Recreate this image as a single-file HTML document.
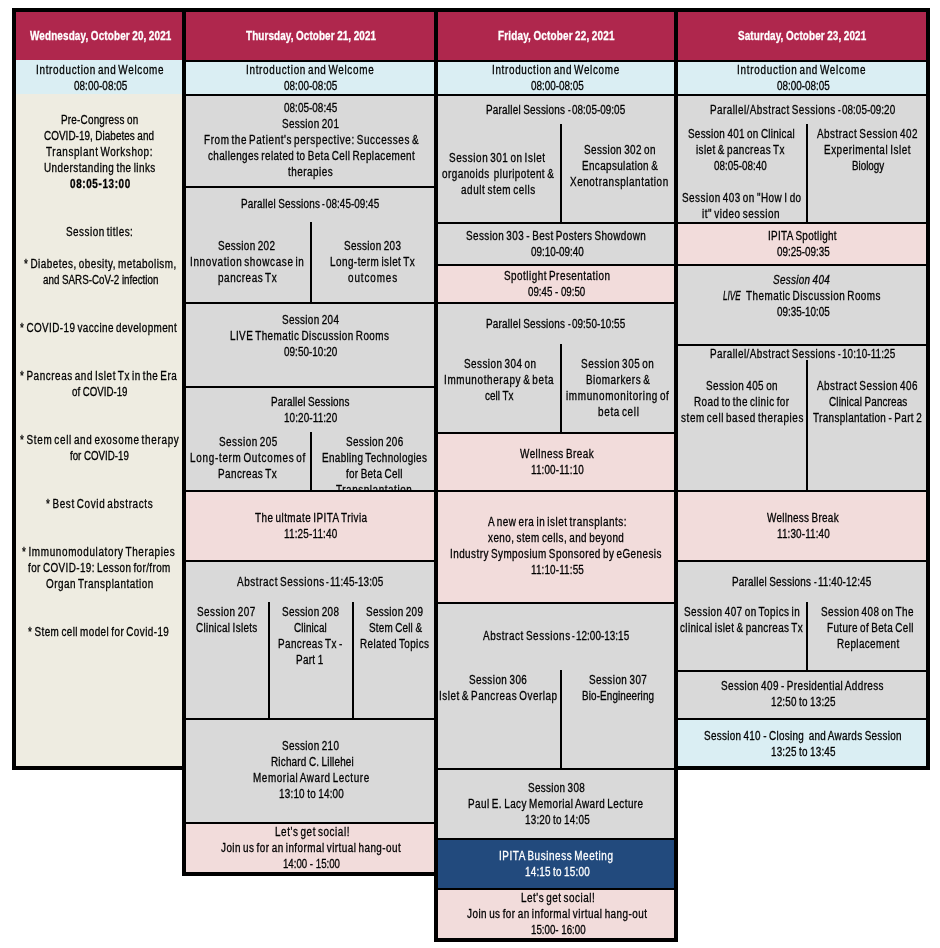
<!DOCTYPE html>
<html lang="en"><head><meta charset="utf-8"><title>IPITA 2021 Virtual Congress - Schedule at a Glance</title>
<style>
html,body{margin:0;padding:0;background:#fff}
body{width:940px;height:948px;position:relative;overflow:hidden;font-family:"Liberation Sans",Arial,sans-serif;font-size:12px;line-height:16px;color:#000;-webkit-text-stroke:0.3px #000}
.k,.c,.d,.t{position:absolute}
.k,.d{background:#000}
.t{white-space:pre;transform-origin:0 50%;height:16px}
.b{font-weight:bold}.w{color:#fff;-webkit-text-stroke-color:#fff}.i{font-style:italic}
.clip{position:absolute;overflow:hidden}
</style></head><body>

<div class="k" style="left:12px;top:8px;width:174px;height:762px"></div>
<div class="k" style="left:182px;top:8px;width:256px;height:868px"></div>
<div class="k" style="left:434px;top:8px;width:244px;height:934px"></div>
<div class="k" style="left:674px;top:8px;width:256px;height:762px"></div>
<div class="c" style="left:16px;top:12px;width:166px;height:48px;background:#AF274D"></div>
<div class="c" style="left:16px;top:60px;width:166px;height:34px;background:#DAEEF3"></div>
<div class="c" style="left:16px;top:94px;width:166px;height:672px;background:#EEECE1"></div>
<div class="c" style="left:186px;top:12px;width:248px;height:48px;background:#AF274D"></div>
<div class="c" style="left:186px;top:62px;width:248px;height:32px;background:#DAEEF3"></div>
<div class="c" style="left:186px;top:96px;width:248px;height:90px;background:#D9D9D9"></div>
<div class="c" style="left:186px;top:188px;width:248px;height:114px;background:#D9D9D9"></div>
<div class="c" style="left:186px;top:304px;width:248px;height:82px;background:#D9D9D9"></div>
<div class="c" style="left:186px;top:388px;width:248px;height:102px;background:#D9D9D9"></div>
<div class="c" style="left:186px;top:492px;width:248px;height:68px;background:#F2DCDB"></div>
<div class="c" style="left:186px;top:562px;width:248px;height:156px;background:#D9D9D9"></div>
<div class="c" style="left:186px;top:720px;width:248px;height:102px;background:#D9D9D9"></div>
<div class="c" style="left:186px;top:824px;width:248px;height:48px;background:#F2DCDB"></div>
<div class="c" style="left:438px;top:12px;width:236px;height:48px;background:#AF274D"></div>
<div class="c" style="left:438px;top:62px;width:236px;height:32px;background:#DAEEF3"></div>
<div class="c" style="left:438px;top:96px;width:236px;height:126px;background:#D9D9D9"></div>
<div class="c" style="left:438px;top:224px;width:236px;height:40px;background:#D9D9D9"></div>
<div class="c" style="left:438px;top:266px;width:236px;height:36px;background:#F2DCDB"></div>
<div class="c" style="left:438px;top:304px;width:236px;height:128px;background:#D9D9D9"></div>
<div class="c" style="left:438px;top:434px;width:236px;height:56px;background:#F2DCDB"></div>
<div class="c" style="left:438px;top:492px;width:236px;height:110px;background:#F2DCDB"></div>
<div class="c" style="left:438px;top:604px;width:236px;height:164px;background:#D9D9D9"></div>
<div class="c" style="left:438px;top:770px;width:236px;height:68px;background:#D9D9D9"></div>
<div class="c" style="left:438px;top:840px;width:236px;height:48px;background:#224A7D"></div>
<div class="c" style="left:438px;top:890px;width:236px;height:48px;background:#F2DCDB"></div>
<div class="c" style="left:678px;top:12px;width:248px;height:48px;background:#AF274D"></div>
<div class="c" style="left:678px;top:62px;width:248px;height:32px;background:#DAEEF3"></div>
<div class="c" style="left:678px;top:96px;width:248px;height:126px;background:#D9D9D9"></div>
<div class="c" style="left:678px;top:224px;width:248px;height:40px;background:#F2DCDB"></div>
<div class="c" style="left:678px;top:266px;width:248px;height:78px;background:#D9D9D9"></div>
<div class="c" style="left:678px;top:346px;width:248px;height:144px;background:#D9D9D9"></div>
<div class="c" style="left:678px;top:492px;width:248px;height:68px;background:#F2DCDB"></div>
<div class="c" style="left:678px;top:562px;width:248px;height:108px;background:#D9D9D9"></div>
<div class="c" style="left:678px;top:672px;width:248px;height:46px;background:#D9D9D9"></div>
<div class="c" style="left:678px;top:720px;width:248px;height:46px;background:#DAEEF3"></div>
<div class="d" style="left:310px;top:222px;width:2px;height:80px"></div>
<div class="d" style="left:310px;top:432px;width:2px;height:58px"></div>
<div class="d" style="left:268px;top:602px;width:2px;height:116px"></div>
<div class="d" style="left:352px;top:602px;width:2px;height:116px"></div>
<div class="d" style="left:560px;top:124px;width:2px;height:98px"></div>
<div class="d" style="left:560px;top:344px;width:2px;height:88px"></div>
<div class="d" style="left:560px;top:670px;width:2px;height:98px"></div>
<div class="d" style="left:806px;top:124px;width:2px;height:98px"></div>
<div class="d" style="left:806px;top:360px;width:2px;height:130px"></div>
<div class="d" style="left:806px;top:602px;width:2px;height:68px"></div>
<div id="txt" style="position:absolute;left:0;top:0;width:940px;height:948px;will-change:transform">
<div class="t b w" style="left:29.90px;top:27.80px;transform:scaleX(0.8250);letter-spacing:0.181px;word-spacing:-0.561px">Wednesday, October 20, 2021</div>
<div class="t b w" style="left:246.40px;top:27.80px;transform:scaleX(0.8250);letter-spacing:0.125px;word-spacing:-0.450px">Thursday, October 21, 2021</div>
<div class="t b w" style="left:498.20px;top:27.80px;transform:scaleX(0.8250);letter-spacing:0.229px;word-spacing:-0.657px">Friday, October 22, 2021</div>
<div class="t b w" style="left:738.20px;top:27.80px;transform:scaleX(0.8250);letter-spacing:0.150px;word-spacing:-0.500px">Saturday, October 23, 2021</div>
<div class="t" style="left:35.57px;top:61.90px;transform:scaleX(0.8250);letter-spacing:0.833px;word-spacing:-1.866px">Introduction and Welcome</div>
<div class="t" style="left:74.20px;top:77.90px;transform:scaleX(0.8250);letter-spacing:0.059px">08:00-08:05</div>
<div class="t" style="left:60.50px;top:111.90px;transform:scaleX(0.8250);letter-spacing:0.261px;word-spacing:-0.722px">Pre-Congress on</div>
<div class="t" style="left:44.40px;top:127.90px;transform:scaleX(0.8250);letter-spacing:0.056px;word-spacing:-0.311px">COVID-19, Diabetes and</div>
<div class="t" style="left:45.80px;top:143.90px;transform:scaleX(0.8250);letter-spacing:0.738px;word-spacing:-1.676px">Transplant Workshop:</div>
<div class="t" style="left:44.00px;top:159.90px;transform:scaleX(0.8250);letter-spacing:0.550px;word-spacing:-1.300px">Understanding the links</div>
<div class="t b" style="left:70.30px;top:175.90px;transform:scaleX(0.8250);letter-spacing:0.763px">08:05-13:00</div>
<div class="t" style="left:66.10px;top:223.90px;transform:scaleX(0.8250);letter-spacing:0.602px;word-spacing:-1.405px">Session titles:</div>
<div class="t" style="left:24.10px;top:255.90px;transform:scaleX(0.8250);letter-spacing:0.586px;word-spacing:-1.373px">* Diabetes, obesity, metabolism,</div>
<div class="t" style="left:42.60px;top:271.90px;transform:scaleX(0.8157)">and SARS-CoV-2 infection</div>
<div class="t" style="left:20.00px;top:319.90px;transform:scaleX(0.8250);letter-spacing:0.486px;word-spacing:-1.172px">* COVID-19 vaccine development</div>
<div class="t" style="left:20.00px;top:367.90px;transform:scaleX(0.8250);letter-spacing:0.683px;word-spacing:-1.567px">* Pancreas and Islet Tx in the Era</div>
<div class="t" style="left:72.40px;top:383.90px;transform:scaleX(0.8079)">of COVID-19</div>
<div class="t" style="left:20.00px;top:431.90px;transform:scaleX(0.8250);letter-spacing:0.870px;word-spacing:-1.939px">* Stem cell and exosome therapy</div>
<div class="t" style="left:70.30px;top:447.90px;transform:scaleX(0.8095)">for COVID-19</div>
<div class="t" style="left:46.20px;top:495.90px;transform:scaleX(0.8250);letter-spacing:0.792px;word-spacing:-1.785px">* Best Covid abstracts</div>
<div class="t" style="left:22.30px;top:543.90px;transform:scaleX(0.8250);letter-spacing:0.797px;word-spacing:-1.793px">* Immunomodulatory Therapies</div>
<div class="t" style="left:28.30px;top:559.90px;transform:scaleX(0.8250);letter-spacing:0.471px;word-spacing:-1.142px">for COVID-19: Lesson for/from</div>
<div class="t" style="left:46.20px;top:575.90px;transform:scaleX(0.8250);letter-spacing:0.638px;word-spacing:-1.477px">Organ Transplantation</div>
<div class="t" style="left:28.30px;top:623.90px;transform:scaleX(0.8250);letter-spacing:0.507px;word-spacing:-1.215px">* Stem cell model for Covid-19</div>
<div class="t" style="left:245.58px;top:61.90px;transform:scaleX(0.8250);letter-spacing:0.839px;word-spacing:-1.878px">Introduction and Welcome</div>
<div class="t" style="left:284.40px;top:77.90px;transform:scaleX(0.8250);letter-spacing:0.047px">08:00-08:05</div>
<div class="t" style="left:284.40px;top:99.90px;transform:scaleX(0.8250);letter-spacing:0.047px">08:05-08:45</div>
<div class="t" style="left:282.30px;top:115.90px;transform:scaleX(0.8250);letter-spacing:0.395px;word-spacing:-0.990px">Session 201</div>
<div class="t" style="left:204.10px;top:131.90px;transform:scaleX(0.8250);letter-spacing:0.731px;word-spacing:-1.662px">From the Patient's perspective: Successes &amp;</div>
<div class="t" style="left:208.10px;top:147.90px;transform:scaleX(0.8250);letter-spacing:0.459px;word-spacing:-1.117px">challenges related to Beta Cell Replacement</div>
<div class="t" style="left:288.40px;top:163.90px;transform:scaleX(0.8250);letter-spacing:0.602px">therapies</div>
<div class="t" style="left:240.50px;top:195.90px;transform:scaleX(0.8250);letter-spacing:0.270px;word-spacing:-0.739px">Parallel Sessions </div>
<div class="t" style="left:322.00px;top:195.90px;transform:scaleX(0.6750)">- </div>
<div class="t" style="left:326.20px;top:195.90px;transform:scaleX(0.8250);letter-spacing:0.035px">08:45-09:45</div>
<div class="t" style="left:218.40px;top:237.90px;transform:scaleX(0.8250);letter-spacing:0.395px;word-spacing:-0.990px">Session 202</div>
<div class="t" style="left:189.68px;top:253.90px;transform:scaleX(0.8250);letter-spacing:0.805px;word-spacing:-1.811px">Innovation showcase in</div>
<div class="t" style="left:218.40px;top:269.90px;transform:scaleX(0.8250);letter-spacing:0.680px;word-spacing:-1.561px">pancreas Tx</div>
<div class="t" style="left:344.20px;top:237.90px;transform:scaleX(0.8250);letter-spacing:0.395px;word-spacing:-0.990px">Session 203</div>
<div class="t" style="left:330.40px;top:253.90px;transform:scaleX(0.8250);letter-spacing:0.560px;word-spacing:-1.320px">Long-term islet Tx</div>
<div class="t" style="left:348.20px;top:269.90px;transform:scaleX(0.8250);letter-spacing:1.087px">outcomes</div>
<div class="t" style="left:282.30px;top:311.90px;transform:scaleX(0.8250);letter-spacing:0.395px;word-spacing:-0.990px">Session 204</div>
<div class="t" style="left:230.40px;top:327.90px;transform:scaleX(0.8250);letter-spacing:0.524px;word-spacing:-1.248px">LIVE Thematic Discussion Rooms</div>
<div class="t" style="left:284.40px;top:343.90px;transform:scaleX(0.8250);letter-spacing:0.047px">09:50-10:20</div>
<div class="t" style="left:270.60px;top:393.90px;transform:scaleX(0.8250);letter-spacing:0.228px;word-spacing:-0.655px">Parallel Sessions</div>
<div class="t" style="left:284.40px;top:409.90px;transform:scaleX(0.8250);letter-spacing:0.136px">10:20-11:20</div>
<div class="t" style="left:219.20px;top:433.90px;transform:scaleX(0.8250);letter-spacing:0.607px;word-spacing:-1.414px">Session 205</div>
<div class="t" style="left:190.00px;top:449.90px;transform:scaleX(0.8250);letter-spacing:0.870px;word-spacing:-1.940px">Long-term Outcomes of</div>
<div class="t" style="left:218.40px;top:465.90px;transform:scaleX(0.8250);letter-spacing:0.514px;word-spacing:-1.228px">Pancreas Tx</div>
<div class="t" style="left:346.10px;top:433.90px;transform:scaleX(0.8250);letter-spacing:0.440px;word-spacing:-1.081px">Session 206</div>
<div class="t" style="left:322.40px;top:449.90px;transform:scaleX(0.8250);letter-spacing:0.417px;word-spacing:-1.034px">Enabling Technologies</div>
<div class="t" style="left:346.40px;top:465.90px;transform:scaleX(0.8250);letter-spacing:0.334px;word-spacing:-0.868px">for Beta Cell</div>
<div class="clip" style="left:312px;top:432px;width:122px;height:58px"><div class="t" style="left:24.30px;top:49.90px;transform:scaleX(0.8250);letter-spacing:0.682px">Transplantation</div></div>
<div class="t" style="left:254.60px;top:509.90px;transform:scaleX(0.8250);letter-spacing:0.549px;word-spacing:-1.298px">The ultmate IPITA Trivia</div>
<div class="t" style="left:284.40px;top:525.90px;transform:scaleX(0.8250);letter-spacing:0.225px">11:25-11:40</div>
<div class="t" style="left:236.50px;top:573.90px;transform:scaleX(0.8250);letter-spacing:0.708px;word-spacing:-1.617px">Abstract Sessions </div>
<div class="t" style="left:326.00px;top:573.90px;transform:scaleX(0.6750)">- </div>
<div class="t" style="left:330.20px;top:573.90px;transform:scaleX(0.8250);letter-spacing:0.124px">11:45-13:05</div>
<div class="t" style="left:197.30px;top:603.90px;transform:scaleX(0.8250);letter-spacing:0.577px;word-spacing:-1.354px">Session 207</div>
<div class="t" style="left:196.10px;top:619.90px;transform:scaleX(0.8250);letter-spacing:0.364px;word-spacing:-0.927px">Clinical Islets</div>
<div class="t" style="left:282.30px;top:603.90px;transform:scaleX(0.8250);letter-spacing:0.395px;word-spacing:-0.990px">Session 208</div>
<div class="t" style="left:294.20px;top:619.90px;transform:scaleX(0.8250);letter-spacing:0.146px">Clinical</div>
<div class="t" style="left:278.30px;top:635.90px;transform:scaleX(0.8250);letter-spacing:0.501px;word-spacing:-1.202px">Pancreas Tx -</div>
<div class="t" style="left:296.40px;top:651.90px;transform:scaleX(0.8250);letter-spacing:0.357px;word-spacing:-0.914px">Part 1</div>
<div class="t" style="left:366.30px;top:603.90px;transform:scaleX(0.8250);letter-spacing:0.395px;word-spacing:-0.990px">Session 209</div>
<div class="t" style="left:369.20px;top:619.90px;transform:scaleX(0.8250);letter-spacing:0.216px;word-spacing:-0.632px">Stem Cell &amp;</div>
<div class="t" style="left:360.20px;top:635.90px;transform:scaleX(0.8250);letter-spacing:0.477px;word-spacing:-1.154px">Related Topics</div>
<div class="t" style="left:282.30px;top:737.90px;transform:scaleX(0.8250);letter-spacing:0.395px;word-spacing:-0.990px">Session 210</div>
<div class="t" style="left:270.60px;top:753.90px;transform:scaleX(0.8250);letter-spacing:0.238px;word-spacing:-0.675px">Richard C. Lillehei</div>
<div class="t" style="left:252.50px;top:769.90px;transform:scaleX(0.8250);letter-spacing:0.709px;word-spacing:-1.619px">Memorial Award Lecture</div>
<div class="t" style="left:278.60px;top:785.90px;transform:scaleX(0.8250);letter-spacing:0.250px;word-spacing:-0.700px">13:10 to 14:00</div>
<div class="t" style="left:274.60px;top:823.90px;transform:scaleX(0.8250);letter-spacing:0.695px;word-spacing:-1.590px">Let's get social!</div>
<div class="t" style="left:220.60px;top:839.90px;transform:scaleX(0.8250);letter-spacing:0.555px;word-spacing:-1.309px">Join us for an informal virtual hang-out</div>
<div class="t" style="left:282.50px;top:855.90px;transform:scaleX(0.8051)">14:00 - 15:00</div>
<div class="t" style="left:491.88px;top:61.90px;transform:scaleX(0.8250);letter-spacing:0.807px;word-spacing:-1.815px">Introduction and Welcome</div>
<div class="t" style="left:530.50px;top:77.90px;transform:scaleX(0.8248)">08:00-08:05</div>
<div class="t" style="left:486.30px;top:101.90px;transform:scaleX(0.8250);letter-spacing:0.270px;word-spacing:-0.739px">Parallel Sessions </div>
<div class="t" style="left:567.80px;top:101.90px;transform:scaleX(0.6750)">- </div>
<div class="t" style="left:572.00px;top:101.90px;transform:scaleX(0.8250);letter-spacing:0.035px">08:05-09:05</div>
<div class="t" style="left:449.20px;top:149.90px;transform:scaleX(0.8250);letter-spacing:0.689px;word-spacing:-1.578px">Session 301 on Islet</div>
<div class="t" style="left:442.40px;top:165.90px;transform:scaleX(0.8250);letter-spacing:0.551px;word-spacing:-1.302px">organoids  pluripotent &amp;</div>
<div class="t" style="left:460.80px;top:181.90px;transform:scaleX(0.8250);letter-spacing:0.706px;word-spacing:-1.611px">adult stem cells</div>
<div class="t" style="left:584.10px;top:141.90px;transform:scaleX(0.8250);letter-spacing:0.476px;word-spacing:-1.152px">Session 302 on</div>
<div class="t" style="left:582.30px;top:157.90px;transform:scaleX(0.8250);letter-spacing:0.447px;word-spacing:-1.093px">Encapsulation &amp;</div>
<div class="t" style="left:570.00px;top:173.90px;transform:scaleX(0.8250);letter-spacing:0.679px">Xenotransplantation</div>
<div class="t" style="left:466.10px;top:227.90px;transform:scaleX(0.8250);letter-spacing:0.505px;word-spacing:-1.209px">Session 303 - Best Posters Showdown</div>
<div class="t" style="left:530.50px;top:243.90px;transform:scaleX(0.8248)">09:10-09:40</div>
<div class="t" style="left:504.20px;top:267.90px;transform:scaleX(0.8250);letter-spacing:0.591px;word-spacing:-1.381px">Spotlight Presentation</div>
<div class="t" style="left:528.40px;top:283.90px;transform:scaleX(0.8093)">09:45 - 09:50</div>
<div class="t" style="left:486.30px;top:315.90px;transform:scaleX(0.8250);letter-spacing:0.270px;word-spacing:-0.739px">Parallel Sessions </div>
<div class="t" style="left:567.80px;top:315.90px;transform:scaleX(0.6750)">- </div>
<div class="t" style="left:572.00px;top:315.90px;transform:scaleX(0.8250);letter-spacing:0.035px">09:50-10:55</div>
<div class="t" style="left:464.10px;top:355.90px;transform:scaleX(0.8250);letter-spacing:0.557px;word-spacing:-1.314px">Session 304 on</div>
<div class="t" style="left:443.57px;top:371.90px;transform:scaleX(0.8250);letter-spacing:0.786px;word-spacing:-1.773px">Immunotherapy &amp; beta</div>
<div class="t" style="left:484.50px;top:387.90px;transform:scaleX(0.8249)">cell Tx</div>
<div class="t" style="left:581.20px;top:355.90px;transform:scaleX(0.8250);letter-spacing:0.665px;word-spacing:-1.529px">Session 305 on</div>
<div class="t" style="left:586.10px;top:371.90px;transform:scaleX(0.8250);letter-spacing:0.613px;word-spacing:-1.427px">Biomarkers &amp;</div>
<div class="t" style="left:566.20px;top:387.90px;transform:scaleX(0.8250);letter-spacing:0.801px;word-spacing:-1.802px">immunomonitoring of</div>
<div class="t" style="left:598.10px;top:403.90px;transform:scaleX(0.8250);letter-spacing:0.837px;word-spacing:-1.873px">beta cell</div>
<div class="t" style="left:520.20px;top:445.90px;transform:scaleX(0.8250);letter-spacing:0.578px;word-spacing:-1.356px">Wellness Break</div>
<div class="t" style="left:530.50px;top:461.90px;transform:scaleX(0.8250);letter-spacing:0.176px">11:00-11:10</div>
<div class="t" style="left:488.30px;top:513.90px;transform:scaleX(0.8250);letter-spacing:0.645px;word-spacing:-1.490px">A new era in islet transplants:</div>
<div class="t" style="left:488.30px;top:529.90px;transform:scaleX(0.8250);letter-spacing:0.529px;word-spacing:-1.258px">xeno, stem cells, and beyond</div>
<div class="t" style="left:449.78px;top:545.90px;transform:scaleX(0.8250);letter-spacing:0.547px;word-spacing:-1.294px">Industry Symposium Sponsored by eGenesis</div>
<div class="t" style="left:530.50px;top:561.90px;transform:scaleX(0.8250);letter-spacing:0.176px">11:10-11:55</div>
<div class="t" style="left:482.50px;top:627.90px;transform:scaleX(0.8250);letter-spacing:0.699px;word-spacing:-1.598px">Abstract Sessions </div>
<div class="t" style="left:571.90px;top:627.90px;transform:scaleX(0.6750)">- </div>
<div class="t" style="left:576.10px;top:627.90px;transform:scaleX(0.8250);letter-spacing:0.035px">12:00-13:15</div>
<div class="t" style="left:469.30px;top:671.90px;transform:scaleX(0.8250);letter-spacing:0.531px;word-spacing:-1.263px">Session 306</div>
<div class="t" style="left:439.48px;top:687.90px;transform:scaleX(0.8250);letter-spacing:0.645px;word-spacing:-1.491px">Islet &amp; Pancreas Overlap</div>
<div class="t" style="left:589.30px;top:671.90px;transform:scaleX(0.8250);letter-spacing:0.531px;word-spacing:-1.263px">Session 307</div>
<div class="t" style="left:582.30px;top:687.90px;transform:scaleX(0.8250);letter-spacing:0.139px">Bio-Engineering</div>
<div class="t" style="left:528.40px;top:779.90px;transform:scaleX(0.8250);letter-spacing:0.365px;word-spacing:-0.929px">Session 308</div>
<div class="t" style="left:468.40px;top:795.90px;transform:scaleX(0.8250);letter-spacing:0.558px;word-spacing:-1.316px">Paul E. Lacy Memorial Award Lecture</div>
<div class="t" style="left:524.80px;top:811.90px;transform:scaleX(0.8250);letter-spacing:0.223px;word-spacing:-0.646px">13:20 to 14:05</div>
<div class="t w" style="left:499.48px;top:847.90px;transform:scaleX(0.8250);letter-spacing:0.706px;word-spacing:-1.612px">IPITA Business Meeting</div>
<div class="t w" style="left:524.80px;top:863.90px;transform:scaleX(0.8250);letter-spacing:0.223px;word-spacing:-0.646px">14:15 to 15:00</div>
<div class="t" style="left:520.80px;top:889.90px;transform:scaleX(0.8250);letter-spacing:0.624px;word-spacing:-1.448px">Let's get social!</div>
<div class="t" style="left:466.60px;top:905.90px;transform:scaleX(0.8250);letter-spacing:0.564px;word-spacing:-1.327px">Join us for an informal virtual hang-out</div>
<div class="t" style="left:531.00px;top:921.90px;transform:scaleX(0.8108)">15:00- 16:00</div>
<div class="t" style="left:737.27px;top:61.90px;transform:scaleX(0.8250);letter-spacing:0.889px;word-spacing:-1.978px">Introduction and Welcome</div>
<div class="t" style="left:776.50px;top:77.90px;transform:scaleX(0.8232)">08:00-08:05</div>
<div class="t" style="left:710.30px;top:101.90px;transform:scaleX(0.8250);letter-spacing:0.542px;word-spacing:-1.283px">Parallel/Abstract Sessions </div>
<div class="t" style="left:837.80px;top:101.90px;transform:scaleX(0.6750)">- </div>
<div class="t" style="left:842.00px;top:101.90px;transform:scaleX(0.8250);letter-spacing:0.035px">08:05-09:20</div>
<div class="t" style="left:688.20px;top:125.90px;transform:scaleX(0.8250);letter-spacing:0.328px;word-spacing:-0.857px">Session 401 on Clinical</div>
<div class="t" style="left:696.30px;top:141.90px;transform:scaleX(0.8250);letter-spacing:0.496px;word-spacing:-1.192px">islet &amp; pancreas Tx</div>
<div class="t" style="left:714.40px;top:157.90px;transform:scaleX(0.8217)">08:05-08:40</div>
<div class="t" style="left:682.20px;top:189.90px;transform:scaleX(0.8250);letter-spacing:0.594px;word-spacing:-1.388px">Session 403 on "How I do</div>
<div class="t" style="left:702.20px;top:205.90px;transform:scaleX(0.8250);letter-spacing:0.675px;word-spacing:-1.551px">it" video session</div>
<div class="t" style="left:816.50px;top:125.90px;transform:scaleX(0.8250);letter-spacing:0.591px;word-spacing:-1.381px">Abstract Session 402</div>
<div class="t" style="left:824.10px;top:141.90px;transform:scaleX(0.8250);letter-spacing:0.641px;word-spacing:-1.482px">Experimental Islet</div>
<div class="t" style="left:852.40px;top:157.90px;transform:scaleX(0.8181)">Biology</div>
<div class="t" style="left:767.57px;top:227.90px;transform:scaleX(0.8250);letter-spacing:0.408px;word-spacing:-1.017px">IPITA Spotlight</div>
<div class="t" style="left:776.50px;top:243.90px;transform:scaleX(0.8232)">09:25-09:35</div>
<div class="t i" style="left:772.50px;top:271.90px;transform:scaleX(0.8250);letter-spacing:0.365px;word-spacing:-0.929px">Session 404</div>
<div class="t i" style="left:722.50px;top:287.90px;transform:scaleX(0.6812)">LIVE</div>
<div class="t" style="left:746.30px;top:287.90px;transform:scaleX(0.8250);letter-spacing:0.569px;word-spacing:-1.339px">Thematic Discussion Rooms</div>
<div class="t" style="left:776.50px;top:303.90px;transform:scaleX(0.8232)">09:35-10:05</div>
<div class="t" style="left:710.30px;top:345.90px;transform:scaleX(0.8250);letter-spacing:0.542px;word-spacing:-1.283px">Parallel/Abstract Sessions </div>
<div class="t" style="left:837.80px;top:345.90px;transform:scaleX(0.6750)">- </div>
<div class="t" style="left:842.00px;top:345.90px;transform:scaleX(0.8250);letter-spacing:0.124px">10:10-11:25</div>
<div class="t" style="left:706.30px;top:377.90px;transform:scaleX(0.8250);letter-spacing:0.490px;word-spacing:-1.179px">Session 405 on</div>
<div class="t" style="left:694.40px;top:393.90px;transform:scaleX(0.8250);letter-spacing:0.514px;word-spacing:-1.228px">Road to the clinic for</div>
<div class="t" style="left:680.60px;top:409.90px;transform:scaleX(0.8250);letter-spacing:0.716px;word-spacing:-1.632px">stem cell based therapies</div>
<div class="t" style="left:816.50px;top:377.90px;transform:scaleX(0.8250);letter-spacing:0.591px;word-spacing:-1.381px">Abstract Session 406</div>
<div class="t" style="left:828.70px;top:393.90px;transform:scaleX(0.8250);letter-spacing:0.172px;word-spacing:-0.543px">Clinical Pancreas</div>
<div class="t" style="left:812.50px;top:409.90px;transform:scaleX(0.8250);letter-spacing:0.431px;word-spacing:-1.061px">Transplantation - Part 2</div>
<div class="t" style="left:766.50px;top:509.90px;transform:scaleX(0.8250);letter-spacing:0.347px;word-spacing:-0.893px">Wellness Break</div>
<div class="t" style="left:776.50px;top:525.90px;transform:scaleX(0.8250);letter-spacing:0.164px">11:30-11:40</div>
<div class="t" style="left:732.20px;top:573.90px;transform:scaleX(0.8250);letter-spacing:0.279px;word-spacing:-0.758px">Parallel Sessions </div>
<div class="t" style="left:813.80px;top:573.90px;transform:scaleX(0.6750)">- </div>
<div class="t" style="left:818.00px;top:573.90px;transform:scaleX(0.8250);letter-spacing:0.124px">11:40-12:45</div>
<div class="t" style="left:684.10px;top:603.90px;transform:scaleX(0.8250);letter-spacing:0.574px;word-spacing:-1.347px">Session 407 on Topics in</div>
<div class="t" style="left:680.10px;top:619.90px;transform:scaleX(0.8250);letter-spacing:0.441px;word-spacing:-1.082px">clinical islet &amp; pancreas Tx</div>
<div class="t" style="left:821.30px;top:603.90px;transform:scaleX(0.8250);letter-spacing:0.554px;word-spacing:-1.307px">Session 408 on The</div>
<div class="t" style="left:826.50px;top:619.90px;transform:scaleX(0.8250);letter-spacing:0.445px;word-spacing:-1.090px">Future of Beta Cell</div>
<div class="t" style="left:836.80px;top:635.90px;transform:scaleX(0.8250);letter-spacing:0.463px">Replacement</div>
<div class="t" style="left:721.30px;top:677.90px;transform:scaleX(0.8250);letter-spacing:0.466px;word-spacing:-1.133px">Session 409 - Presidential Address</div>
<div class="t" style="left:770.60px;top:693.90px;transform:scaleX(0.8250);letter-spacing:0.209px;word-spacing:-0.619px">12:50 to 13:25</div>
<div class="t" style="left:704.40px;top:727.90px;transform:scaleX(0.8250);letter-spacing:0.346px;word-spacing:-0.891px">Session 410 - Closing  and Awards Session</div>
<div class="t" style="left:770.60px;top:743.90px;transform:scaleX(0.8250);letter-spacing:0.209px;word-spacing:-0.619px">13:25 to 13:45</div>
</div>
</body></html>
